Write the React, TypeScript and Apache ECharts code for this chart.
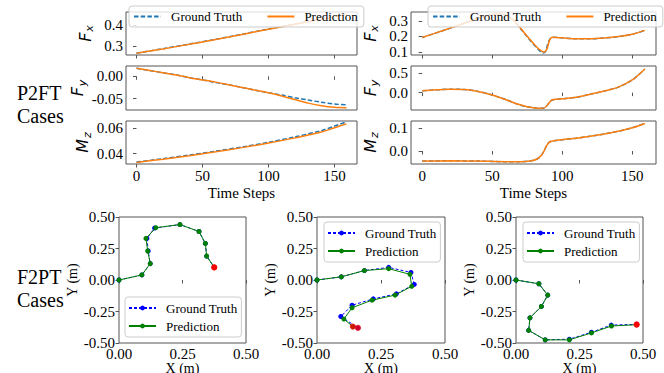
import React, { useEffect, useRef } from 'react';
import * as echarts from 'echarts';

// ---------- P2FT data: [time step, value] ----------
const timeTicks = [0, 50, 100, 150];

const leftFxGT = [[0, 0.266], [20, 0.287], [40, 0.309], [60, 0.332], [80, 0.356], [100, 0.381], [120, 0.405], [140, 0.429], [159, 0.452]];
const leftFxPred = [[0, 0.265], [20, 0.286], [40, 0.308], [60, 0.331], [80, 0.355], [100, 0.38], [120, 0.404], [140, 0.428], [159, 0.451]];

const leftFyGT = [[0, 0.018], [10, 0.013], [20, 0.008], [30, 0.003], [40, -0.003], [50, -0.008], [60, -0.014], [70, -0.019], [80, -0.025], [90, -0.031], [100, -0.037], [110, -0.042], [120, -0.048], [130, -0.053], [140, -0.058], [150, -0.062], [159, -0.064]];
const leftFyPred = [[0, 0.018], [10, 0.013], [20, 0.008], [30, 0.003], [40, -0.003], [50, -0.008], [60, -0.013], [70, -0.019], [80, -0.025], [90, -0.031], [100, -0.037], [110, -0.044], [120, -0.052], [130, -0.06], [140, -0.066], [150, -0.0695], [159, -0.0705]];

const leftMzGT = [[0, 0.0336], [20, 0.0362], [40, 0.039], [60, 0.042], [80, 0.0452], [100, 0.0488], [120, 0.053], [140, 0.0578], [150, 0.0613], [159, 0.0645]];
const leftMzPred = [[0, 0.0333], [20, 0.0358], [40, 0.0385], [60, 0.0415], [80, 0.0447], [100, 0.0482], [120, 0.0522], [140, 0.0567], [150, 0.06], [159, 0.063]];

const rightFxGT = [[0, 0.192], [10, 0.222], [20, 0.253], [30, 0.284], [40, 0.315], [50, 0.34], [55, 0.345], [60, 0.335], [65, 0.305], [70, 0.252], [75, 0.197], [80, 0.143], [84, 0.105], [86, 0.092], [88, 0.1], [90, 0.16], [92, 0.19], [95, 0.193], [100, 0.19], [110, 0.184], [120, 0.184], [130, 0.189], [140, 0.198], [150, 0.213], [159, 0.238]];
const rightFxPred = [[0, 0.192], [10, 0.222], [20, 0.253], [30, 0.284], [40, 0.315], [50, 0.34], [55, 0.345], [60, 0.335], [65, 0.305], [70, 0.255], [75, 0.2], [80, 0.148], [84, 0.112], [87, 0.098], [89, 0.115], [91, 0.175], [93, 0.193], [96, 0.192], [100, 0.19], [110, 0.184], [120, 0.184], [130, 0.189], [140, 0.198], [150, 0.213], [159, 0.238]];

const rightFyGT = [[0, 0.05], [10, 0.07], [20, 0.085], [30, 0.08], [40, 0.03], [50, -0.06], [60, -0.18], [68, -0.29], [75, -0.36], [82, -0.395], [86, -0.398], [88, -0.37], [90, -0.29], [92, -0.2], [95, -0.17], [100, -0.155], [110, -0.12], [120, -0.04], [130, 0.04], [140, 0.14], [150, 0.32], [159, 0.6]];
const rightFyPred = [[0, 0.05], [10, 0.07], [20, 0.085], [30, 0.08], [40, 0.03], [50, -0.06], [60, -0.18], [68, -0.29], [75, -0.36], [82, -0.395], [86, -0.395], [88, -0.37], [90, -0.29], [92, -0.2], [95, -0.17], [100, -0.155], [110, -0.12], [120, -0.04], [130, 0.04], [140, 0.14], [150, 0.32], [159, 0.6]];

const rightMzGT = [[0, -0.044], [20, -0.043], [40, -0.044], [60, -0.047], [70, -0.047], [78, -0.043], [82, -0.035], [85, -0.02], [87, 0.0], [89, 0.025], [91, 0.04], [94, 0.045], [100, 0.05], [110, 0.056], [120, 0.065], [130, 0.075], [140, 0.087], [150, 0.102], [159, 0.121]];
const rightMzPred = [[0, -0.044], [20, -0.043], [40, -0.044], [60, -0.047], [70, -0.047], [78, -0.043], [82, -0.035], [85, -0.02], [87, 0.0], [89, 0.025], [91, 0.04], [94, 0.045], [100, 0.05], [110, 0.056], [120, 0.065], [130, 0.075], [140, 0.087], [150, 0.102], [159, 0.121]];

// ---------- F2PT trajectories: [x (m), y (m)] ----------
const traj1GT = [[0, 0], [0.09, 0.04], [0.123, 0.13], [0.115, 0.23], [0.11, 0.33], [0.14, 0.412], [0.24, 0.44], [0.315, 0.385], [0.34, 0.29], [0.345, 0.19], [0.375, 0.1]];
const traj1Pred = [[0, 0], [0.09, 0.04], [0.123, 0.13], [0.113, 0.23], [0.106, 0.33], [0.145, 0.415], [0.24, 0.44], [0.315, 0.385], [0.34, 0.29], [0.345, 0.19], [0.375, 0.1]];

const traj2GT = [[0, 0], [0.095, 0.025], [0.185, 0.075], [0.28, 0.1], [0.367, 0.06], [0.38, -0.035], [0.31, -0.11], [0.22, -0.15], [0.137, -0.2], [0.093, -0.29], [0.16, -0.38]];
const traj2Pred = [[0, 0], [0.095, 0.025], [0.185, 0.075], [0.28, 0.09], [0.363, 0.045], [0.37, -0.05], [0.305, -0.12], [0.215, -0.16], [0.137, -0.22], [0.105, -0.31], [0.14, -0.37]];

const traj3GT = [[0, 0], [0.09, -0.03], [0.125, -0.12], [0.1, -0.21], [0.055, -0.3], [0.05, -0.4], [0.115, -0.475], [0.21, -0.47], [0.297, -0.415], [0.375, -0.358], [0.475, -0.352]];
const traj3Pred = [[0, 0], [0.09, -0.03], [0.125, -0.12], [0.1, -0.21], [0.055, -0.3], [0.05, -0.4], [0.115, -0.475], [0.21, -0.475], [0.297, -0.42], [0.376, -0.365], [0.475, -0.355]];

const SERIF = 'Liberation Serif';
const SANS = 'DejaVu Sans';
const BORDER = '#555';

export default function App() {
  const ref = useRef<HTMLDivElement>(null);

  useEffect(() => {
    if (!ref.current) return;
    const chart = echarts.init(ref.current, null, { renderer: 'svg' });

    const topCols = [{ left: 126, width: 231 }, { left: 411, width: 245 }];
    const topRows = [{ top: 12, height: 43 }, { top: 66, height: 44 }, { top: 121, height: 43 }];
    const topPanels = [
      { col: 0, row: 0, gt: leftFxGT, pred: leftFxPred, min: 0.257, max: 0.462, ticks: [0.3, 0.4], dec: 1, letter: 'F', sub: 'x' },
      { col: 0, row: 1, gt: leftFyGT, pred: leftFyPred, min: -0.0754, max: 0.0231, ticks: [-0.05, 0], dec: 2, letter: 'F', sub: 'y' },
      { col: 0, row: 2, gt: leftMzGT, pred: leftMzPred, min: 0.0321, max: 0.0652, ticks: [0.04, 0.06], dec: 2, letter: 'M', sub: 'z' },
      { col: 1, row: 0, gt: rightFxGT, pred: rightFxPred, min: 0.079, max: 0.357, ticks: [0.1, 0.2, 0.3], dec: 1, letter: 'F', sub: 'x' },
      { col: 1, row: 1, gt: rightFyGT, pred: rightFyPred, min: -0.44, max: 0.674, ticks: [0, 0.5], dec: 1, letter: 'F', sub: 'y' },
      { col: 1, row: 2, gt: rightMzGT, pred: rightMzPred, min: -0.057, max: 0.132, ticks: [0, 0.1], dec: 1, letter: 'M', sub: 'z' },
    ];
    const bottomPanels = [
      { left: 119, width: 127, gt: traj1GT, pred: traj1Pred, legend: { left: 125, top: 297 } },
      { left: 317, width: 128, gt: traj2GT, pred: traj2Pred, legend: { left: 324, top: 222 } },
      { left: 516, width: 127, gt: traj3GT, pred: traj3Pred, legend: { left: 523, top: 222 } },
    ];

    const grid: any[] = [];
    const xAxis: any[] = [];
    const yAxis: any[] = [];
    const series: any[] = [];

    const tickStyle = { show: true, inside: false, length: 3.5, lineStyle: { color: BORDER, width: 1 } };
    const labelFont = { fontFamily: SERIF, fontSize: 15, color: '#000' };

    topPanels.forEach((p, i) => {
      const c = topCols[p.col];
      const r = topRows[p.row];
      grid.push({ left: c.left, top: r.top, width: c.width, height: r.height, show: true, borderColor: BORDER, borderWidth: 1, backgroundColor: 'transparent', outerBoundsMode: 'none', containLabel: false });
      const isBottom = p.row === 2;
      xAxis.push({
        type: 'value', gridIndex: i, min: -7.95, max: 166.95,
        axisLine: { show: false }, splitLine: { show: false },
        axisTick: { ...tickStyle, customValues: timeTicks },
        axisLabel: { show: isBottom, customValues: timeTicks, margin: 4, ...labelFont, formatter: (v: number) => String(v) },
        name: isBottom ? 'Time Steps' : '', nameLocation: 'middle', nameGap: 21,
        nameTextStyle: { fontFamily: SERIF, fontSize: 15, color: '#000' },
      });
      yAxis.push({
        type: 'value', gridIndex: i, min: p.min, max: p.max,
        axisLine: { show: false }, splitLine: { show: false },
        axisTick: { ...tickStyle, customValues: p.ticks },
        axisLabel: { customValues: p.ticks, margin: 3, ...labelFont, formatter: (v: number) => v.toFixed(p.dec) },
        name: `{m|${p.letter}}{s|${p.sub}}`, nameLocation: 'middle', nameRotate: 90, nameGap: 31,
        nameTextStyle: {
          rich: {
            m: { fontFamily: SANS, fontStyle: 'italic', fontSize: 16, color: '#000' },
            s: { fontFamily: SANS, fontStyle: 'italic', fontSize: 11, color: '#000', padding: [9, 0, 0, 1] },
          },
        },
      });
      series.push({
        type: 'line', name: 'Ground Truth', xAxisIndex: i, yAxisIndex: i, data: p.gt,
        symbol: 'none', showSymbol: false, smooth: 0.3, silent: true,
        lineStyle: { color: '#1f77b4', width: 1.5, type: [4.5, 2.2] }, itemStyle: { color: '#1f77b4' }, z: 2,
      });
      series.push({
        type: 'line', name: 'Prediction', xAxisIndex: i, yAxisIndex: i, data: p.pred,
        symbol: 'none', showSymbol: false, smooth: 0.3, silent: true,
        lineStyle: { color: '#ff7f0e', width: 1.5 }, itemStyle: { color: '#ff7f0e' }, z: 3,
      });
    });

    bottomPanels.forEach((p, k) => {
      const i = 6 + k;
      grid.push({ left: p.left, top: 217, width: p.width, height: 126, show: true, borderColor: BORDER, borderWidth: 1, backgroundColor: 'transparent', outerBoundsMode: 'none', containLabel: false });
      xAxis.push({
        type: 'value', gridIndex: i, min: 0, max: 0.5, interval: 0.25,
        axisLine: { show: false }, splitLine: { show: false },
        axisTick: tickStyle,
        axisLabel: { margin: 3, ...labelFont, formatter: (v: number) => v.toFixed(2) },
        name: 'X (m)', nameLocation: 'middle', nameGap: 15,
        nameTextStyle: { fontFamily: SERIF, fontSize: 14, color: '#000' },
      });
      yAxis.push({
        type: 'value', gridIndex: i, min: -0.5, max: 0.5, interval: 0.25,
        axisLine: { show: false }, splitLine: { show: false },
        axisTick: tickStyle,
        axisLabel: { margin: 4, ...labelFont, formatter: (v: number) => v.toFixed(2) },
        name: 'Y (m)', nameLocation: 'middle', nameRotate: 90, nameGap: 34,
        nameTextStyle: { fontFamily: SERIF, fontSize: 14, color: '#000' },
      });
      series.push({
        type: 'line', name: 'GT_traj', xAxisIndex: i, yAxisIndex: i, data: p.gt,
        symbol: 'circle', symbolSize: 5, showSymbol: true, silent: true,
        lineStyle: { color: '#0000ff', width: 1, type: [3, 2] }, itemStyle: { color: '#0000ff' }, z: 2,
      });
      series.push({
        type: 'line', name: 'Pred_traj', xAxisIndex: i, yAxisIndex: i, data: p.pred,
        symbol: 'circle', symbolSize: 5, showSymbol: true, silent: true,
        lineStyle: { color: '#008000', width: 1 }, itemStyle: { color: '#008000' }, z: 3,
      });
      series.push({
        type: 'scatter', name: 'Goal', xAxisIndex: i, yAxisIndex: i,
        data: [p.gt[p.gt.length - 1], p.pred[p.pred.length - 1]],
        symbol: 'circle', symbolSize: 6, silent: true, itemStyle: { color: '#ff0000' }, z: 4,
      });
    });

    const legendText = { fontFamily: SERIF, fontSize: 13, color: '#000', padding: [0, 0, 0, 5] };
    const topLegend = (left: number) => ({
      left, top: 6, orient: 'horizontal', data: ['Ground Truth', 'Prediction'],
      itemWidth: 27, itemHeight: 10, itemGap: 24, padding: [4, 6, 4, 4],
      backgroundColor: 'rgba(255,255,255,0.8)', borderColor: '#cccccc', borderWidth: 1, borderRadius: 3,
      itemStyle: { opacity: 0 }, selectedMode: false, textStyle: legendText,
    });
    const names: Record<string, string> = { GT_traj: 'Ground Truth', Pred_traj: 'Prediction' };
    const bottomLegend = (pos: { left: number; top: number }) => ({
      left: pos.left, top: pos.top, orient: 'vertical', data: ['GT_traj', 'Pred_traj'],
      formatter: (n: string) => names[n],
      itemWidth: 27, itemHeight: 6, itemGap: 4, padding: [4, 4, 4, 3],
      backgroundColor: 'rgba(255,255,255,0.8)', borderColor: '#cccccc', borderWidth: 1, borderRadius: 3,
      selectedMode: false, textStyle: { ...legendText, lineHeight: 14 },
    });

    chart.setOption({
      animation: false,
      backgroundColor: '#ffffff',
      grid, xAxis, yAxis, series,
      legend: [topLegend(129), topLegend(428), ...bottomPanels.map((p) => bottomLegend(p.legend))],
      graphic: [
        { type: 'text', left: 17, top: 83, style: { text: 'P2FT', font: `20px "${SERIF}"`, fill: '#000' } },
        { type: 'text', left: 17, top: 106, style: { text: 'Cases', font: `20px "${SERIF}"`, fill: '#000' } },
        { type: 'text', left: 17, top: 267, style: { text: 'F2PT', font: `20px "${SERIF}"`, fill: '#000' } },
        { type: 'text', left: 17, top: 290, style: { text: 'Cases', font: `20px "${SERIF}"`, fill: '#000' } },
      ],
    });

    return () => chart.dispose();
  }, []);

  return <div ref={ref} style={{ position: 'fixed', left: 0, top: 0, width: 664, height: 373, background: '#fff' }} />;
}
